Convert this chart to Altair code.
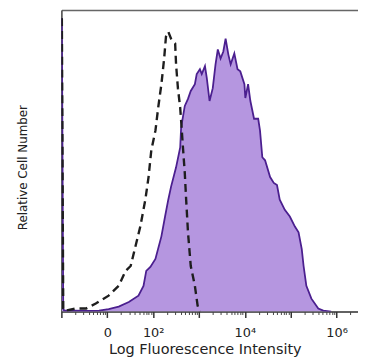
import altair as alt
import pandas as pd
import math

# Positions on the display axis are in "decade" units (0 = left edge, 1 = "0", 2 = 10^2, ... 6 = 10^6)
stained_u = [0.01, 0.04, 0.06, 0.28, 0.60, 0.82, 1.03, 1.25, 1.47, 1.68, 1.79, 1.85, 1.94, 2.05,
             2.18, 2.26, 2.33, 2.39, 2.50, 2.59, 2.61, 2.69, 2.76, 2.82, 2.91, 2.95, 3.02, 3.06,
             3.13, 3.17, 3.23, 3.30, 3.36, 3.41, 3.47, 3.53, 3.58, 3.64, 3.69, 3.77, 3.84, 3.90,
             3.99, 4.01, 4.07, 4.12, 4.20, 4.29, 4.33, 4.38, 4.44, 4.55, 4.63, 4.70, 4.76, 4.87,
             4.98, 5.09, 5.17, 5.24, 5.28, 5.34, 5.45, 5.60, 5.71, 5.88]
stained_v = [96.0, 1.0, 0.3, 0.3, 0.2, 0.3, 0.8, 1.6, 3.1, 5.2, 8.4, 13.3, 14.6, 17.2,
             24.6, 31.1, 36.6, 40.8, 47.2, 53.7, 60.2, 67.3, 69.6, 72.2, 74.4, 77.7, 79.3, 77.7,
             80.3, 76.4, 68.9, 73.1, 80.9, 85.8, 82.8, 85.1, 89.3, 84.1, 80.9, 84.5, 79.3, 78.6,
             74.4, 69.9, 74.4, 68.9, 63.1, 63.1, 59.2, 50.5, 49.5, 44.0, 42.1, 41.4, 36.6, 33.3,
             31.1, 27.8, 25.9, 20.4, 14.9, 8.4, 4.2, 1.0, 0.3, 0.0]

control_u = [0.01, 0.04, 0.06, 0.32, 0.54, 0.75, 1.03, 1.25, 1.40, 1.51, 1.72, 1.83, 1.90, 1.96,
             2.05, 2.11, 2.18, 2.24, 2.28, 2.33, 2.39, 2.48, 2.50, 2.54, 2.59, 2.61, 2.65, 2.69,
             2.72, 2.76, 2.82, 2.91, 2.97, 3.02]
control_v = [96.0, 1.0, 0.2, 1.0, 1.0, 2.6, 5.2, 8.4, 13.3, 14.9, 27.8, 36.6, 44.0, 52.8,
             59.2, 66.7, 74.4, 82.8, 90.0, 91.6, 89.3, 87.7, 80.9, 73.1, 66.7, 62.5, 53.7, 45.3,
             36.6, 25.9, 14.9, 8.4, 1.9, 0.0]

major_ticks = [0, 1, 2, 3, 4, 5, 6]
tick_labels = {1: "0", 2: "10²", 4: "10⁴", 6: "10⁶"}
minor_ticks = [d + math.log10(k) for d in range(0, 7) for k in range(2, 10) if d + math.log10(k) < 6.46]

X_DOMAIN = [0, 6.466]
Y_DOMAIN = [0, 98.7]

stained = pd.DataFrame({"u": stained_u, "v": stained_v})
control = pd.DataFrame({"u": control_u, "v": control_v})

label_expr = " : ".join(
    [f"datum.value == {k} ? '{v}'" for k, v in tick_labels.items()]
) + " : ''"

FONT = "DejaVu Sans"

xscale = alt.Scale(domain=X_DOMAIN, nice=False, zero=False)
yscale = alt.Scale(domain=Y_DOMAIN, nice=False, zero=False)

main_x_axis = alt.Axis(
    orient="bottom", values=major_ticks, labelExpr=label_expr, tickSize=6, tickWidth=1.5,
    tickColor="#333333", domainColor="#333333", domainWidth=1.5, labelFont=FONT,
    labelFontSize=13, labelColor="#222222", labelPadding=9, labelFlush=False,
    labelOverlap=False, grid=False, title="Log Fluorescence Intensity", titleFont=FONT,
    titleFontSize=14.6, titleFontWeight="normal", titleColor="#222222", titleY=38.5,
    titleX=145, titleBaseline="middle",
)
minor_x_axis = alt.Axis(
    orient="bottom", values=minor_ticks, labels=False, tickSize=3, tickWidth=1,
    tickColor="#444444", domain=False, grid=False, title=None,
)
top_x_axis = alt.Axis(
    orient="top", labels=False, ticks=False, domain=True, domainColor="#666666",
    domainWidth=1.5, grid=False, title=None,
)
y_axis = alt.Axis(
    orient="left", labels=False, ticks=False, domain=True, domainColor="#444444",
    domainWidth=1.5, grid=False, title="Relative Cell Number", titleFont=FONT,
    titleFontSize=12, titleFontWeight="normal", titleColor="#222222",
    titleX=-39, titleY=159, titleBaseline="middle", titleAlign="center", minExtent=0,
)

area = alt.Chart(stained).mark_area(color="#b596e0", opacity=1, clip=True).encode(
    x=alt.X("u:Q", scale=xscale, axis=main_x_axis),
    y=alt.Y("v:Q", scale=yscale, axis=y_axis),
)
outline = alt.Chart(stained).mark_line(color="#4b1f8f", strokeWidth=1.8, clip=True).encode(
    x=alt.X("u:Q", scale=xscale, axis=minor_x_axis),
    y=alt.Y("v:Q", scale=yscale, axis=y_axis),
)
dashed = alt.Chart(control).mark_line(
    color="#1e1e1e", strokeWidth=2.4, strokeDash=[8, 5], clip=True
).encode(
    x=alt.X("u:Q", scale=xscale, axis=top_x_axis),
    y=alt.Y("v:Q", scale=yscale, axis=y_axis),
)

chart = (
    alt.layer(area, outline, dashed)
    .resolve_axis(x="independent")
    .properties(
        width=300, height=305,
        autosize=alt.AutoSizeParams(type="none"),
        padding={"left": 54, "top": 0, "right": 0, "bottom": 44},
    )
    .configure_view(stroke=None)
    .configure(background="white")
)

chart.save("out.html", embed_options={"renderer": "svg", "actions": False})
